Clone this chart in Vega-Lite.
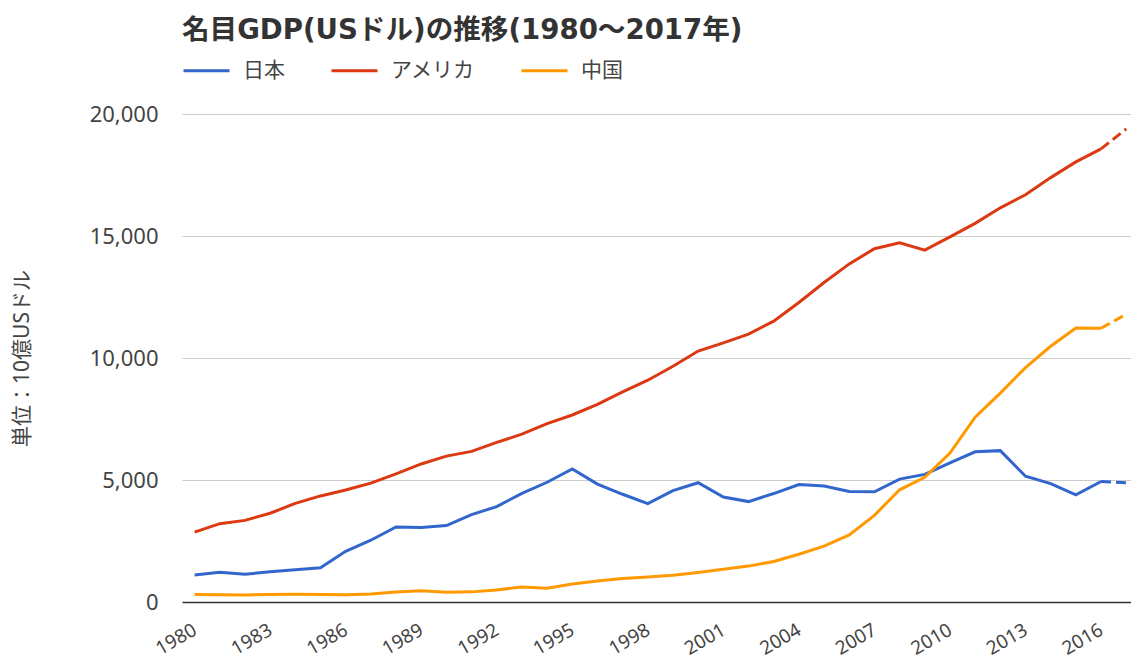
{
  "$schema": "https://vega.github.io/schema/vega-lite/v6.json",
  "autosize": "none",
  "width": 949,
  "height": 488,
  "padding": {"left": 182, "top": 114, "right": 0, "bottom": 59},
  "background": "white",
  "config": {
    "font": "'Noto Sans', 'Noto Sans CJK JP', sans-serif",
    "view": {"stroke": null}
  },
  "title": {
    "text": "名目GDP(USドル)の推移(1980～2017年)",
    "anchor": "start",
    "frame": "group",
    "font": "'DejaVu Sans', 'Noto Sans CJK JP', sans-serif",
    "fontSize": 27.6,
    "fontWeight": "bold",
    "color": "#333333",
    "offset": 1
  },
  "data": {
    "values": [
      {"year": 1980, "country": "日本", "gdp": 1105}, {"year": 1981, "country": "日本", "gdp": 1218}, {"year": 1982, "country": "日本", "gdp": 1135}, {"year": 1983, "country": "日本", "gdp": 1244}, {"year": 1984, "country": "日本", "gdp": 1318}, {"year": 1985, "country": "日本", "gdp": 1399}, {"year": 1986, "country": "日本", "gdp": 2079}, {"year": 1987, "country": "日本", "gdp": 2531}, {"year": 1988, "country": "日本", "gdp": 3072}, {"year": 1989, "country": "日本", "gdp": 3055}, {"year": 1990, "country": "日本", "gdp": 3133}, {"year": 1991, "country": "日本", "gdp": 3584}, {"year": 1992, "country": "日本", "gdp": 3909}, {"year": 1993, "country": "日本", "gdp": 4454}, {"year": 1994, "country": "日本", "gdp": 4907}, {"year": 1995, "country": "日本", "gdp": 5449}, {"year": 1996, "country": "日本", "gdp": 4834}, {"year": 1997, "country": "日本", "gdp": 4415}, {"year": 1998, "country": "日本", "gdp": 4033}, {"year": 1999, "country": "日本", "gdp": 4563}, {"year": 2000, "country": "日本", "gdp": 4888}, {"year": 2001, "country": "日本", "gdp": 4304}, {"year": 2002, "country": "日本", "gdp": 4115}, {"year": 2003, "country": "日本", "gdp": 4445}, {"year": 2004, "country": "日本", "gdp": 4815}, {"year": 2005, "country": "日本", "gdp": 4755}, {"year": 2006, "country": "日本", "gdp": 4530}, {"year": 2007, "country": "日本", "gdp": 4515}, {"year": 2008, "country": "日本", "gdp": 5038}, {"year": 2009, "country": "日本", "gdp": 5231}, {"year": 2010, "country": "日本", "gdp": 5700}, {"year": 2011, "country": "日本", "gdp": 6157}, {"year": 2012, "country": "日本", "gdp": 6203}, {"year": 2013, "country": "日本", "gdp": 5156}, {"year": 2014, "country": "日本", "gdp": 4850}, {"year": 2015, "country": "日本", "gdp": 4389}, {"year": 2016, "country": "日本", "gdp": 4939}, {"year": 2017, "country": "日本", "gdp": 4884},
      {"year": 1980, "country": "アメリカ", "gdp": 2863}, {"year": 1981, "country": "アメリカ", "gdp": 3211}, {"year": 1982, "country": "アメリカ", "gdp": 3345}, {"year": 1983, "country": "アメリカ", "gdp": 3638}, {"year": 1984, "country": "アメリカ", "gdp": 4041}, {"year": 1985, "country": "アメリカ", "gdp": 4347}, {"year": 1986, "country": "アメリカ", "gdp": 4590}, {"year": 1987, "country": "アメリカ", "gdp": 4870}, {"year": 1988, "country": "アメリカ", "gdp": 5253}, {"year": 1989, "country": "アメリカ", "gdp": 5658}, {"year": 1990, "country": "アメリカ", "gdp": 5980}, {"year": 1991, "country": "アメリカ", "gdp": 6174}, {"year": 1992, "country": "アメリカ", "gdp": 6539}, {"year": 1993, "country": "アメリカ", "gdp": 6879}, {"year": 1994, "country": "アメリカ", "gdp": 7309}, {"year": 1995, "country": "アメリカ", "gdp": 7664}, {"year": 1996, "country": "アメリカ", "gdp": 8100}, {"year": 1997, "country": "アメリカ", "gdp": 8609}, {"year": 1998, "country": "アメリカ", "gdp": 9089}, {"year": 1999, "country": "アメリカ", "gdp": 9661}, {"year": 2000, "country": "アメリカ", "gdp": 10285}, {"year": 2001, "country": "アメリカ", "gdp": 10622}, {"year": 2002, "country": "アメリカ", "gdp": 10978}, {"year": 2003, "country": "アメリカ", "gdp": 11511}, {"year": 2004, "country": "アメリカ", "gdp": 12275}, {"year": 2005, "country": "アメリカ", "gdp": 13094}, {"year": 2006, "country": "アメリカ", "gdp": 13856}, {"year": 2007, "country": "アメリカ", "gdp": 14478}, {"year": 2008, "country": "アメリカ", "gdp": 14719}, {"year": 2009, "country": "アメリカ", "gdp": 14419}, {"year": 2010, "country": "アメリカ", "gdp": 14964}, {"year": 2011, "country": "アメリカ", "gdp": 15518}, {"year": 2012, "country": "アメリカ", "gdp": 16155}, {"year": 2013, "country": "アメリカ", "gdp": 16692}, {"year": 2014, "country": "アメリカ", "gdp": 17393}, {"year": 2015, "country": "アメリカ", "gdp": 18037}, {"year": 2016, "country": "アメリカ", "gdp": 18569}, {"year": 2017, "country": "アメリカ", "gdp": 19390},
      {"year": 1980, "country": "中国", "gdp": 306}, {"year": 1981, "country": "中国", "gdp": 294}, {"year": 1982, "country": "中国", "gdp": 285}, {"year": 1983, "country": "中国", "gdp": 311}, {"year": 1984, "country": "中国", "gdp": 315}, {"year": 1985, "country": "中国", "gdp": 310}, {"year": 1986, "country": "中国", "gdp": 301}, {"year": 1987, "country": "中国", "gdp": 327}, {"year": 1988, "country": "中国", "gdp": 411}, {"year": 1989, "country": "中国", "gdp": 461}, {"year": 1990, "country": "中国", "gdp": 398}, {"year": 1991, "country": "中国", "gdp": 415}, {"year": 1992, "country": "中国", "gdp": 494}, {"year": 1993, "country": "中国", "gdp": 617}, {"year": 1994, "country": "中国", "gdp": 564}, {"year": 1995, "country": "中国", "gdp": 734}, {"year": 1996, "country": "中国", "gdp": 864}, {"year": 1997, "country": "中国", "gdp": 962}, {"year": 1998, "country": "中国", "gdp": 1029}, {"year": 1999, "country": "中国", "gdp": 1094}, {"year": 2000, "country": "中国", "gdp": 1211}, {"year": 2001, "country": "中国", "gdp": 1339}, {"year": 2002, "country": "中国", "gdp": 1471}, {"year": 2003, "country": "中国", "gdp": 1660}, {"year": 2004, "country": "中国", "gdp": 1955}, {"year": 2005, "country": "中国", "gdp": 2286}, {"year": 2006, "country": "中国", "gdp": 2752}, {"year": 2007, "country": "中国", "gdp": 3552}, {"year": 2008, "country": "中国", "gdp": 4598}, {"year": 2009, "country": "中国", "gdp": 5110}, {"year": 2010, "country": "中国", "gdp": 6101}, {"year": 2011, "country": "中国", "gdp": 7573}, {"year": 2012, "country": "中国", "gdp": 8561}, {"year": 2013, "country": "中国", "gdp": 9607}, {"year": 2014, "country": "中国", "gdp": 10482}, {"year": 2015, "country": "中国", "gdp": 11226}, {"year": 2016, "country": "中国", "gdp": 11218}, {"year": 2017, "country": "中国", "gdp": 11795}
    ]
  },
  "encoding": {
    "x": {
      "field": "year",
      "type": "quantitative",
      "scale": {"domain": [1979.5, 2017.19], "nice": false, "zero": false},
      "axis": {
        "title": null,
        "values": [1980, 1983, 1986, 1989, 1992, 1995, 1998, 2001, 2004, 2007, 2010, 2013, 2016],
        "format": "d",
        "grid": false,
        "ticks": false,
        "tickSize": 0,
        "labelAngle": -30,
        "labelAlign": "right",
        "labelBaseline": "middle",
        "labelPadding": 26,
        "labelFontSize": 19,
        "labelColor": "#444444",
        "labelOverlap": false,
        "labelFlush": false,
        "domainColor": "#333333",
        "domainWidth": 1.5
      }
    },
    "y": {
      "field": "gdp",
      "type": "quantitative",
      "scale": {"domain": [0, 20000], "nice": false},
      "axis": {
        "title": "単位：10億USドル",
        "values": [0, 5000, 10000, 15000, 20000],
        "format": ",d",
        "domain": false,
        "ticks": false,
        "tickSize": 0,
        "labelPadding": 24,
        "labelFontSize": 22,
        "labelColor": "#444444",
        "gridColor": "#cccccc",
        "gridWidth": 1,
        "titleFontSize": 21,
        "titleFontWeight": "normal",
        "titleColor": "#444444",
        "titleX": -160,
        "titleY": 244,
        "titleAngle": -90,
        "titleAlign": "center",
        "titleBaseline": "middle"
      }
    },
    "color": {
      "field": "country",
      "type": "nominal",
      "scale": {"domain": ["日本", "アメリカ", "中国"], "range": ["#3366cc", "#dc3912", "#ff9900"]},
      "legend": {
        "title": null,
        "orient": "none",
        "direction": "horizontal",
        "legendX": 0,
        "legendY": -68,
        "symbolType": "stroke",
        "symbolSize": 2116,
        "symbolStrokeWidth": 3,
        "labelFontSize": 21,
        "labelColor": "#444444",
        "labelOffset": 12,
        "columnPadding": 40
      }
    }
  },
  "layer": [
    {
      "transform": [{"filter": "datum.year <= 2016"}],
      "mark": {"type": "line", "strokeWidth": 3}
    },
    {
      "transform": [{"filter": "datum.year >= 2016"}],
      "mark": {"type": "line", "strokeWidth": 3, "strokeDash": [10, 5]}
    }
  ]
}
